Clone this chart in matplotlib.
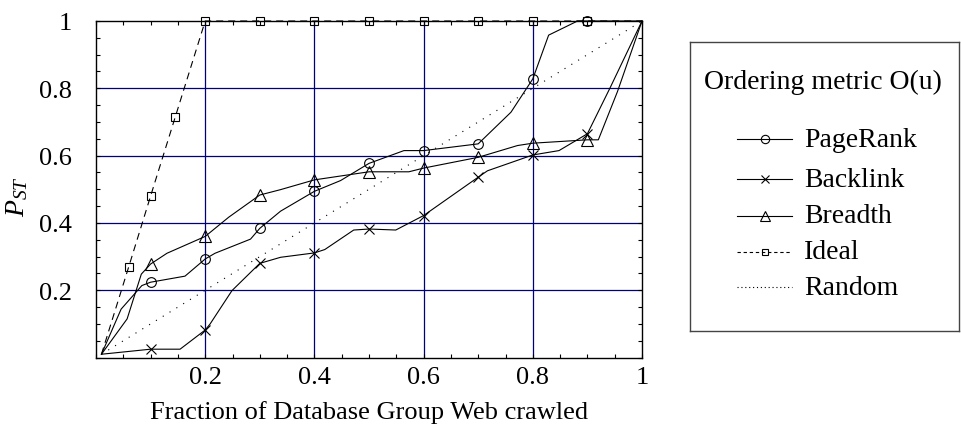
import numpy as np
import matplotlib
matplotlib.use("Agg")
import matplotlib.pyplot as plt
from matplotlib.ticker import MultipleLocator, FixedLocator, FuncFormatter

plt.rcParams['font.family'] = ['Liberation Serif', 'DejaVu Serif']
plt.rcParams['mathtext.fontset'] = 'custom'
plt.rcParams['mathtext.rm'] = 'Liberation Serif'
plt.rcParams['mathtext.it'] = 'Liberation Serif:italic'

# Fraction crawled vs. fraction of hot pages found, per ordering metric
pagerank_x = [0.01, 0.046, 0.084, 0.1, 0.163, 0.2, 0.218, 0.283, 0.3, 0.338, 0.4,
              0.448, 0.5, 0.564, 0.6, 0.7, 0.76, 0.8, 0.829, 0.882, 0.9, 1.0]
pagerank_y = [0.01, 0.144, 0.214, 0.224, 0.242, 0.293, 0.31, 0.352, 0.384, 0.435, 0.494,
              0.526, 0.577, 0.615, 0.615, 0.635, 0.729, 0.828, 0.958, 1.0, 1.0, 1.0]

backlink_x = [0.01, 0.1, 0.154, 0.2, 0.209, 0.249, 0.3, 0.338, 0.4, 0.419, 0.472, 0.5,
              0.549, 0.6, 0.7, 0.717, 0.8, 0.848, 0.9, 0.942, 1.0]
backlink_y = [0.01, 0.025, 0.025, 0.082, 0.1, 0.199, 0.28, 0.298, 0.311, 0.321, 0.379, 0.382,
              0.379, 0.422, 0.536, 0.555, 0.602, 0.615, 0.665, 0.803, 1.0]

breadth_x = [0.01, 0.057, 0.083, 0.1, 0.13, 0.2, 0.243, 0.3, 0.338, 0.4, 0.5, 0.573,
             0.6, 0.7, 0.772, 0.8, 0.9, 0.92, 0.955, 1.0]
breadth_y = [0.01, 0.115, 0.248, 0.278, 0.31, 0.36, 0.417, 0.483, 0.499, 0.528, 0.552, 0.552,
             0.563, 0.595, 0.63, 0.637, 0.647, 0.647, 0.79, 1.0]

ideal_x = [0.01, 0.06, 0.1, 0.145, 0.2, 0.3, 0.4, 0.5, 0.6, 0.7, 0.8, 0.9, 1.0]
ideal_y = [0.01, 0.27, 0.48, 0.714, 1.0, 1.0, 1.0, 1.0, 1.0, 1.0, 1.0, 1.0, 1.0]

random_x = [0.01, 1.0]
random_y = [0.01, 1.0]

tick_values = [0.2, 0.4, 0.6, 0.8, 1.0]
series_labels = ["PageRank", "Backlink", "Breadth", "Ideal", "Random"]
legend_title = "Ordering metric O(u)"
x_label = "Fraction of Database Group Web crawled"
y_label = r"$P_{ST}$"

FS = 19
LFS = 20


def decile_marks(xs):
    """Indices of the vertices that sit on the 0.1 ... 0.9 sample points."""
    xs = np.asarray(xs)
    return [i for i, v in enumerate(xs)
            if 0.05 < v < 0.95 and np.isclose(v * 10, round(v * 10))]


fig = plt.figure(figsize=(9.61, 4.31), dpi=100)
W, H = 961, 431
ax = fig.add_axes([96 / W, 1 - 358.6 / H, (642 - 96) / W, (358.6 - 22) / H])

ax.set_xlim(0, 1)
ax.set_ylim(0, 1)

grid_kw = dict(color="#00007a", lw=0.9, zorder=1)
for v in tick_values[:-1]:
    ax.axvline(v, **grid_kw)
    ax.axhline(v, **grid_kw)

line_kw = dict(color="black", lw=0.8, zorder=3, clip_on=False)
mk_kw = dict(markerfacecolor="none", markeredgecolor="black", markeredgewidth=0.8)

ax.plot(random_x, random_y, linestyle=(0, (1, 6.2)), **line_kw)
ax.plot(ideal_x, ideal_y, linestyle=(0, (6.3, 4.5)), marker="s", markersize=5.5,
        markevery=slice(1, -1), **line_kw, **mk_kw)
ax.plot(pagerank_x, pagerank_y, marker="o", markersize=7,
        markevery=decile_marks(pagerank_x), **line_kw, **mk_kw)
ax.plot(backlink_x, backlink_y, marker="x", markersize=7,
        markevery=decile_marks(backlink_x), **line_kw, **mk_kw)
ax.plot(breadth_x, breadth_y, marker="^", markersize=8,
        markevery=decile_marks(breadth_x), **line_kw, **mk_kw)

ax.xaxis.set_major_locator(FixedLocator(tick_values))
ax.yaxis.set_major_locator(FixedLocator(tick_values))
ax.xaxis.set_minor_locator(MultipleLocator(0.05))
ax.yaxis.set_minor_locator(MultipleLocator(0.05))
fmt = FuncFormatter(lambda v, p: f"{v:g}")
ax.xaxis.set_major_formatter(fmt)
ax.yaxis.set_major_formatter(fmt)
ax.tick_params(which="both", direction="in", top=True, right=True,
               length=3, width=0.8, color="black", labelsize=FS)
ax.tick_params(axis="x", which="major", pad=6)
ax.tick_params(axis="y", which="major", pad=17.5)
for s in ax.spines.values():
    s.set_linewidth(1.0)
    s.set_color("black")

ax.set_xlabel(x_label, fontsize=FS, labelpad=9)
fig.text(17 / W, 1 - 197 / H, y_label, fontsize=FS + 1, rotation=90,
         ha="center", va="center")

# Legend panel drawn in its own axes, in pixel units (y downward)
lx0, ly0, lx1, ly1 = 690, 43, 959, 332
lax = fig.add_axes([lx0 / W, 1 - ly1 / H, (lx1 - lx0) / W, (ly1 - ly0) / H])
lax.set_xlim(0, lx1 - lx0)
lax.set_ylim(ly1 - ly0, 0)
lax.set_xticks([])
lax.set_yticks([])
for s in lax.spines.values():
    s.set_linewidth(1.0)
    s.set_color("#444444")

lax.text((702 + 943) / 2 - lx0, 82 - ly0, legend_title, fontsize=LFS,
         ha="center", va="center")

row_y = [140, 180, 216.5, 252.5, 288]
handle_styles = [
    dict(linestyle="-", marker="o", markersize=6),
    dict(linestyle="-", marker="x", markersize=6),
    dict(linestyle="-", marker="^", markersize=7),
    dict(linestyle=(0, (3, 2.5)), marker="s", markersize=4.5),
    dict(linestyle=(0, (1, 2.5)), marker=None),
]
hx0, hx1, tx = 737 - lx0, 792 - lx0, 804 - lx0
for yy, lab, st in zip(row_y, series_labels, handle_styles):
    y = yy - ly0
    lax.plot([hx0, (hx0 + hx1) / 2, hx1], [y, y, y], color="black", lw=0.8,
             markevery=[1], **mk_kw, **st)
    lax.text(tx, y + 7, lab, fontsize=LFS, ha="left", va="baseline")

fig.savefig("out.png", dpi=100)
